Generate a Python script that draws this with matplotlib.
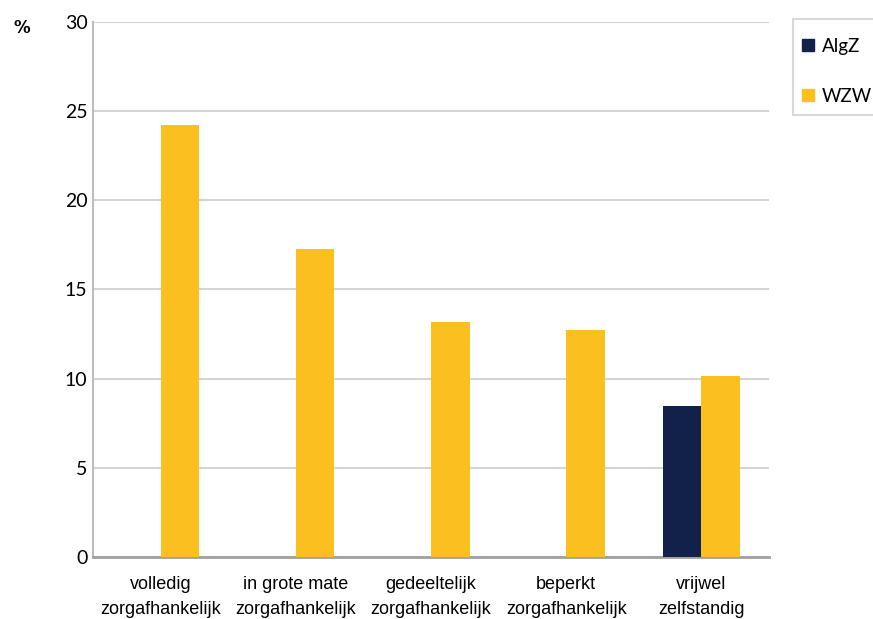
import numpy as np
import matplotlib
matplotlib.use("Agg")
import matplotlib.pyplot as plt
from matplotlib.patches import Patch, Rectangle

# Percentages per care-dependency category
categories = ["volledig\nzorgafhankelijk", "in grote mate\nzorgafhankelijk",
              "gedeeltelijk\nzorgafhankelijk", "beperkt\nzorgafhankelijk",
              "vrijwel\nzelfstandig"]
algz = [0, 0, 0, 0, 8.45]
wzw = [24.25, 17.25, 13.2, 12.7, 10.15]

navy = "#12214a"
yellow = "#fbbf1f"

fig = plt.figure(figsize=(8.73, 6.19), dpi=100)
ax = fig.add_axes([0.1065, 0.1002, 0.7745, 0.8643])

x = np.arange(len(categories))
w = 0.285
ax.bar(x - w / 2, algz, w, color=navy, zorder=3)
ax.bar(x + w / 2, wzw, w, color=yellow, zorder=3)

ax.set_xlim(-0.5, len(categories) - 0.5)
ax.set_ylim(0, 30)
ax.set_yticks(range(0, 31, 5))
ax.yaxis.grid(True, color="#d4d4d4", linewidth=1.5, zorder=0)
ax.set_axisbelow(True)

for side in ["top", "right"]:
    ax.spines[side].set_visible(False)
ax.spines["left"].set_color("#bdbdbd")
ax.spines["left"].set_linewidth(1.5)
ax.spines["bottom"].set_color("#a0a0a0")
ax.spines["bottom"].set_linewidth(2)

ax.tick_params(axis="both", length=0)
ax.tick_params(axis="y", pad=4)
for lbl in ax.get_yticklabels():
    lbl.set_fontfamily("Lato")
    lbl.set_fontsize(14)

ax.set_xticks(x)
ax.set_xticklabels(categories, fontfamily="Liberation Sans", fontsize=13,
                   linespacing=1.6)
ax.tick_params(axis="x", pad=14)

fig.text(22 / 873, 1 - 28 / 619, "%", fontsize=12, fontweight="bold",
         ha="center", va="center")

# legend box drawn separately so it can run off the right edge
fig.patches.append(Rectangle((793 / 873, 1 - 115 / 619), 90 / 873, 96 / 619,
                             transform=fig.transFigure, facecolor="white",
                             edgecolor="#d9d9d9", linewidth=1.5))
handles = [Patch(color=navy), Patch(color=yellow)]
fig.legend(handles, ["AlgZ", "WZW"], loc="upper left",
           bbox_to_anchor=(798 / 873, 1 - 34 / 619), borderaxespad=0,
           prop={"family": "Lato", "size": 13.5},
           handlelength=0.65, handleheight=0.65, handletextpad=0.4,
           labelspacing=1.75, borderpad=0.2, frameon=False)

fig.savefig("out.png", dpi=100)
